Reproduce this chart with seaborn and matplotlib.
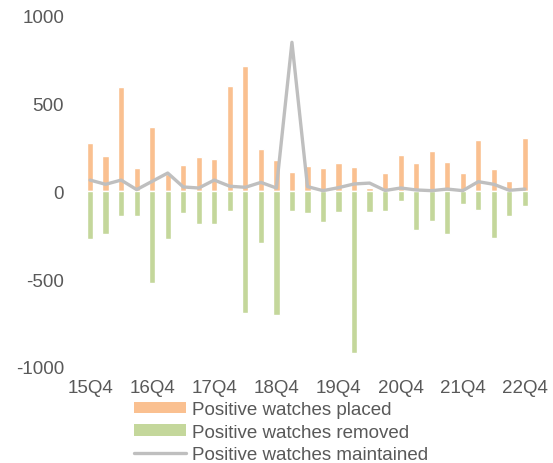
import numpy as np
import pandas as pd
import matplotlib
matplotlib.use("Agg")
import matplotlib.pyplot as plt
import seaborn as sns
from matplotlib.patches import Patch
from matplotlib.lines import Line2D

quarters = ["15Q4",
            "16Q1", "16Q2", "16Q3", "16Q4",
            "17Q1", "17Q2", "17Q3", "17Q4",
            "18Q1", "18Q2", "18Q3", "18Q4",
            "19Q1", "19Q2", "19Q3", "19Q4",
            "20Q1", "20Q2", "20Q3", "20Q4",
            "21Q1", "21Q2", "21Q3", "21Q4",
            "22Q1", "22Q2", "22Q3", "22Q4"]
placed = [273, 199, 591, 131, 362, 95, 148, 195, 184, 595, 712, 237, 174,
          110, 142, 131, 161, 134, 17, 102, 204, 161, 227, 165, 102, 292, 125, 57, 301]
removed = [-271, -244, -144, -140, -523, -273, -125, -187, -186, -112, -691, -297, -706,
           -112, -127, -178, -117, -922, -121, -114, -55, -220, -173, -242, -72, -108, -265, -140, -83]
maintained = [62, 38, 62, 8, 55, 102, 23, 17, 62, 27, 21, 49, 17,
              845, 25, 2, 19, 40, 45, 3, 17, 6, 2, 11, 2, 53, 38, 4, 11]
tick_labels = ["15Q4", "16Q4", "17Q4", "18Q4", "19Q4", "20Q4", "21Q4", "22Q4"]

c_orange = "#FAC090"
c_green = "#C4D79B"
c_gray = "#BFBFBF"
c_text = "#595959"

sns.set_style("white")
plt.rcParams["font.family"] = ["Liberation Sans", "DejaVu Sans"]

df = pd.DataFrame({"q": quarters, "placed": placed, "removed": removed,
                   "maintained": maintained, "pos": np.arange(len(quarters))})

fig = plt.figure(figsize=(5.53, 4.64), dpi=100)
ax = fig.add_axes([0.146, 0.2069, 0.82, 0.7586])

sns.barplot(data=df, x="q", y="placed", color=c_orange, width=0.4,
            saturation=1, ax=ax, order=quarters)
sns.barplot(data=df, x="q", y="removed", color=c_green, width=0.4,
            saturation=1, ax=ax, order=quarters)
sns.lineplot(data=df, x="pos", y="maintained", color=c_gray, linewidth=2.4,
             ax=ax, sort=False)

ax.set_xlim(-0.6, len(quarters) - 0.4)
ax.set_ylim(-1000, 1000)
ax.set_yticks([-1000, -500, 0, 500, 1000])
ax.set_yticklabels(["-1000", "-500", "0", "500", "1000"])
ax.set_xticks([quarters.index(t) for t in tick_labels])
ax.set_xticklabels(tick_labels)
ax.set_xlabel("")
ax.set_ylabel("")
for s in ax.spines.values():
    s.set_visible(False)
ax.tick_params(axis="both", length=0, labelsize=13.5, colors=c_text)
ax.tick_params(axis="x", pad=9)
ax.tick_params(axis="y", pad=12)
ax.grid(False)

handles = [Patch(facecolor=c_orange, edgecolor="none"),
           Patch(facecolor=c_green, edgecolor="none"),
           Line2D([0], [0], color=c_gray, linewidth=2.4)]
labels = ["Positive watches placed", "Positive watches removed",
          "Positive watches maintained"]
leg = fig.legend(handles, labels, loc="upper left", bbox_to_anchor=(0.242, 0.133),
                 frameon=False, fontsize=13.5, handlelength=2.8, handleheight=0.55,
                 handletextpad=0.3, labelspacing=0.28, borderpad=0, borderaxespad=0)
for t in leg.get_texts():
    t.set_color(c_text)

fig.savefig("out.png", dpi=100)
